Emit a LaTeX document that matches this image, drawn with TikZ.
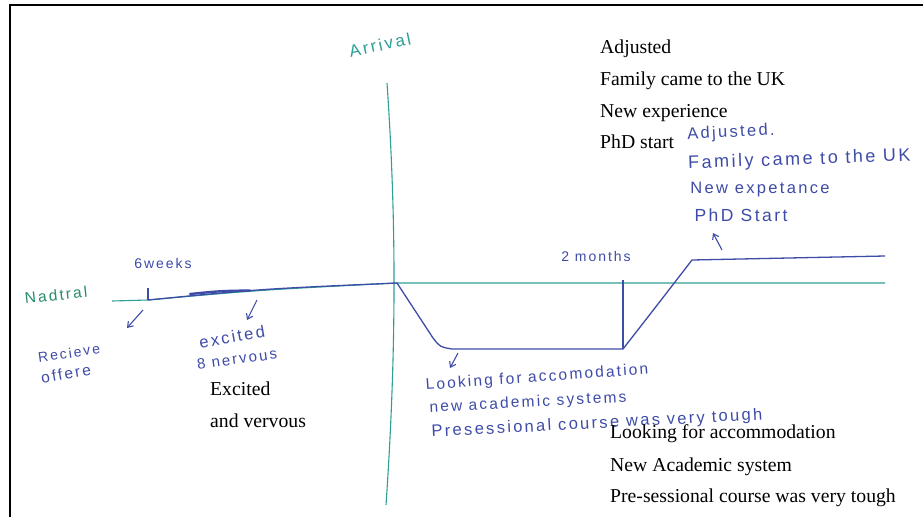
\documentclass[tikz,border=0pt]{standalone}
\usepackage{fontspec}
\setmainfont{Liberation Serif}
\newfontfamily\hand[LetterSpace=14]{Liberation Sans}
\usetikzlibrary{arrows.meta}
\definecolor{tealpen}{RGB}{45,160,150}
\definecolor{greenpen}{RGB}{40,140,110}
\definecolor{bluepen}{RGB}{62,76,168}
\newcommand{\hsz}[1]{\hand\fontsize{#1}{#1}\selectfont}
\tikzset{
  typed/.style={anchor=base west, inner sep=0pt, font=\fontsize{19.7}{24}\selectfont, text=black},
  handb/.style={inner sep=0pt, text=bluepen, font=\hsz{16}},
  handt/.style={inner sep=0pt, text=tealpen, font=\hsz{16}},
  tealline/.style={draw=tealpen, line width=1.1pt},
  blueline/.style={draw=bluepen, line width=1.3pt},
  penarrow/.style={draw=bluepen, line width=1.1pt, -{Straight Barb[length=5pt,width=7pt]}},
}
\begin{document}
\begin{tikzpicture}[x=1pt,y=-1pt]
\useasboundingbox (0,0) rectangle (923,517);
\fill[white] (0,0) rectangle (923,517);
% frame
\draw[line width=2pt] (9.5,517) -- (9.5,5) -- (923,5);

% coordinates
\coordinate (nL) at (112,301);
\coordinate (tick) at (148,300);
\coordinate (origin) at (397,283);
\coordinate (nR) at (885,283);
\coordinate (aTop) at (387,83);
\coordinate (aBot) at (386,505);
\coordinate (dipA) at (433,338);
\coordinate (dipB) at (452,349);
\coordinate (lowR) at (623,349);
\coordinate (highL) at (692,260);
\coordinate (highR) at (885,256);

% teal axes
\draw[tealline] (nL) -- (tick) .. controls (260,290) .. (origin) -- (nR);
\draw[tealline] (aTop) .. controls (395,200) and (398,330) .. (aBot);

% blue curve
\draw[blueline] (tick) .. controls (260,289) .. (origin) -- (dipA)
  .. controls (440,347) .. (dipB) -- (lowR) -- (658,304) -- (highL) -- (highR);
\draw[draw=bluepen, line width=2.4pt, line cap=round] (190,294) .. controls (220,291) .. (250,290.5);
\draw[blueline] (148,288) -- (tick);
\draw[blueline] (623,280) -- (lowR);

% small arrows
\coordinate (a1s) at (143,310); \coordinate (a1e) at (127,328);
\coordinate (a2s) at (257,300); \coordinate (a2e) at (247,320);
\coordinate (a3s) at (458,353); \coordinate (a3e) at (450,368);
\coordinate (a4s) at (722,250); \coordinate (a4e) at (713,233);
\draw[penarrow] (a1s) -- (a1e);
\draw[penarrow] (a2s) -- (a2e);
\draw[penarrow] (a3s) -- (a3e);
\draw[penarrow] (a4s) -- (a4e);

% handwritten labels
\node[handt, font=\hsz{17}, rotate=12] (arrival) at (380,45) {Arrival};
\node[inner sep=0pt, text=greenpen, font=\hsz{15.5}, rotate=6] (neutral) at (56,295) {Nadtral};
\node[handb, font=\hsz{14}] (weeks) at (163,263) {6weeks};
\node[handb, font=\hsz{14}, rotate=8] (rec1) at (69,353) {Recieve};
\node[handb, font=\hsz{15.5}, rotate=10] (rec2) at (66,374) {offere};
\node[handb, font=\hsz{16.5}, rotate=10] (exc1) at (232,337) {excited};
\node[handb, font=\hsz{15}, rotate=8] (exc2) at (237,359) {8 nervous};
\node[handb, font=\hsz{14}] (months) at (596,256) {2 months};
\node[handb, font=\hsz{16.5}, rotate=3] (adj1) at (731,133) {Adjusted.};
\node[handb, font=\hsz{18}, rotate=2, anchor=west] (adj2) at (688,164) {Family came to the UK};
\node[handb, font=\hsz{16.5}] (adj3) at (760,190) {New expetance};
\node[handb, font=\hsz{17.5}] (adj4) at (741,215) {PhD Start};
\node[handb, font=\hsz{15.5}, rotate=4] (look1) at (537,378) {Looking for accomodation};
\node[handb, font=\hsz{15.5}, rotate=3] (look2) at (528,403) {new academic systems};
\node[handb, font=\hsz{16.5}, rotate=3] (look3) at (597,424) {Presessional course was very tough};

% typed labels
\node[typed] (t1) at (600,53) {Adjusted};
\node[typed] (t2) at (600,85) {Family came to the UK};
\node[typed] (t3) at (600,117) {New experience};
\node[typed] (t4) at (600,148) {PhD start};
\node[typed] (e1) at (210,395) {Excited};
\node[typed] (e2) at (210,427) {and vervous};
\node[typed] (b1) at (610,438) {Looking for accommodation};
\node[typed] (b2) at (610,471) {New Academic system};
\node[typed] (b3) at (610,502) {Pre-sessional course was very tough};
\end{tikzpicture}
\end{document}
